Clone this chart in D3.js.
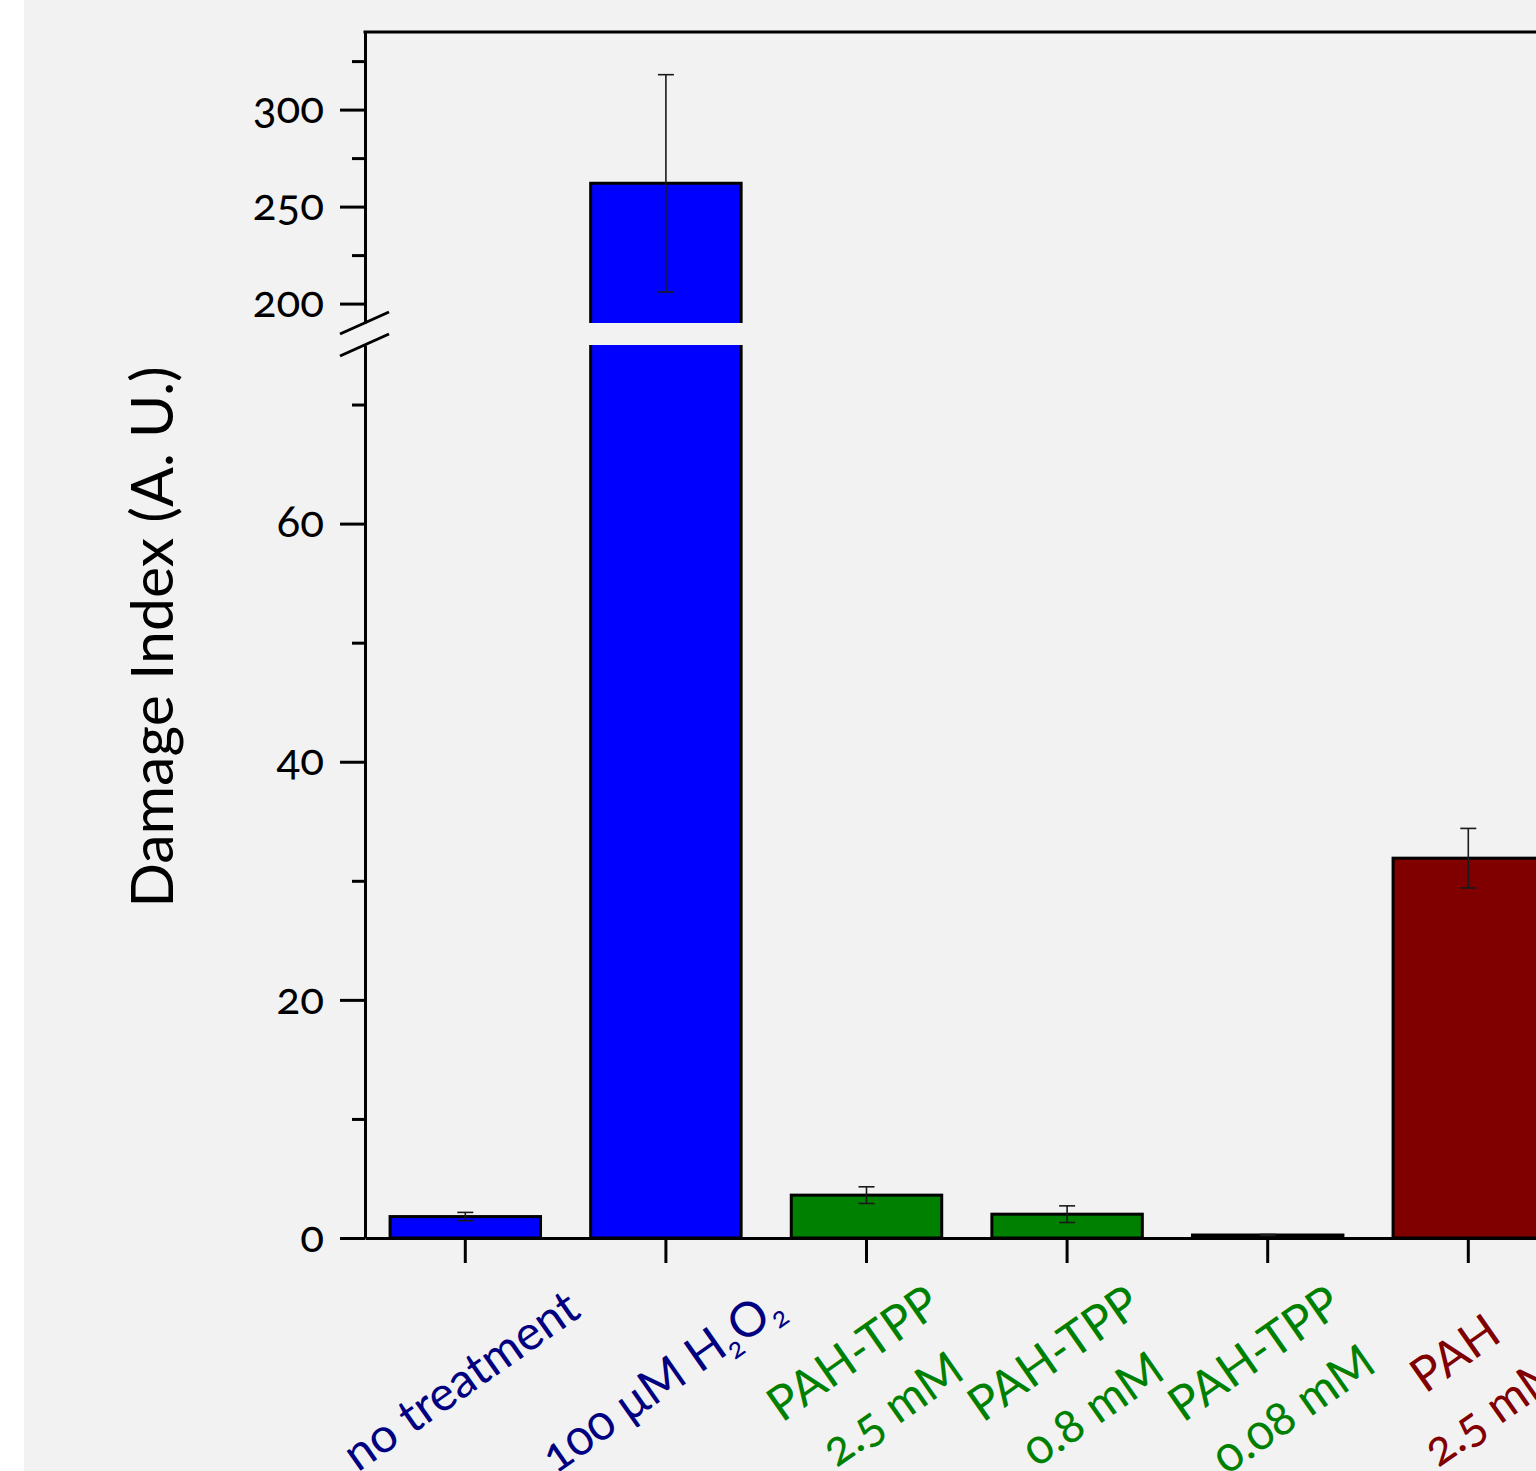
<!DOCTYPE html>
<html>

<head>
    <script src="https://d3js.org/d3.v7.min.js"></script>
    <style>
        body {
            margin: 0;
            background-color: #ffffff;
        }

        text {
            font-family: 'Lato', sans-serif;
            font-variant-numeric: oldstyle-nums;
        }
    </style>
    <title>Damage Index</title>
</head>

<body>
    <svg id="chart" width="1536" height="1471"></svg>

    <script>
        // data
        var categories = ["no treatment", "100 uM H2O2", "PAH-TPP 2.5 mM", "PAH-TPP 0.8 mM", "PAH-TPP 0.08 mM", "PAH 2.5 mM"];
        var labelLines = [["no treatment"], ["100 μM H_2O_2"], ["PAH-TPP", "2.5 mM"], ["PAH-TPP", "0.8 mM"], ["PAH-TPP", "0.08 mM"], ["PAH", "2.5 mM"]];
        var values = [1.8, 262, 3.6, 2.0, 0.25, 31.9];
        var errors = [0.35, 56, 0.7, 0.7, 0.05, 2.5];
        var barColors = ["#0000ff", "#0000ff", "#008000", "#008000", "#008000", "#800000"];
        var labelColors = ["#000080", "#000080", "#008000", "#008000", "#008000", "#800000"];

        var lowDomain = [0, 75];
        var highDomain = [190, 340];
        var lowTicks = [0, 20, 40, 60];
        var lowMinor = [10, 30, 50, 70];
        var highTicks = [200, 250, 300];
        var highMinor = [225, 275, 325];

        var svg = d3.select("#chart");

        var axisX = 365;
        var baseY = 1238;

        svg.append("rect")
            .attr("x", 24)
            .attr("y", 0)
            .attr("width", 1512)
            .attr("height", 1471)
            .attr("fill", "#f2f2f2");

        var x = d3.scaleBand()
            .domain(categories)
            .range([axisX, axisX + 200.6 * categories.length])
            .paddingInner(0.25)
            .paddingOuter(0.125);

        var yLow = d3.scaleLinear().domain(lowDomain).range([baseY, 345]);
        var yHigh = d3.scaleLinear().domain(highDomain).range([323, 32]);

        function yOf(v) {
            return v >= highDomain[0] ? yHigh(v) : yLow(v);
        }

        // bars
        var bars = svg.append("g");
        categories.forEach(function (c, i) {
            var x0 = x(c), x1 = x(c) + x.bandwidth();
            var v = values[i];
            if (v > lowDomain[1]) {
                // broken bar: two pieces, no edge at the break
                var segs = [
                    { top: yHigh(v), bottom: yHigh(highDomain[0]), path: "M" + x0 + "," + yHigh(highDomain[0]) + "V" + yHigh(v) + "H" + x1 + "V" + yHigh(highDomain[0]) },
                    { top: yLow(lowDomain[1]), bottom: yLow(0), path: "M" + x0 + "," + yLow(lowDomain[1]) + "V" + yLow(0) + "H" + x1 + "V" + yLow(lowDomain[1]) }
                ];
                segs.forEach(function (s) {
                    bars.append("rect")
                        .attr("x", x0)
                        .attr("y", s.top)
                        .attr("width", x.bandwidth())
                        .attr("height", s.bottom - s.top)
                        .attr("fill", barColors[i]);
                    bars.append("path")
                        .attr("d", s.path)
                        .attr("fill", "none")
                        .attr("stroke", "#000")
                        .attr("stroke-width", 3);
                });
            } else {
                bars.append("rect")
                    .attr("x", x0)
                    .attr("y", yLow(v))
                    .attr("width", x.bandwidth())
                    .attr("height", yLow(0) - yLow(v))
                    .attr("fill", barColors[i])
                    .attr("stroke", "#000")
                    .attr("stroke-width", 3);
            }
        });

        // error bars
        var err = svg.append("g")
            .attr("stroke", "#1a1a1a")
            .attr("stroke-width", 1.6);
        categories.forEach(function (c, i) {
            var cx = x(c) + x.bandwidth() / 2;
            var lo = yOf(values[i] - errors[i]);
            var hi = yOf(values[i] + errors[i]);
            err.append("line").attr("x1", cx).attr("x2", cx).attr("y1", lo).attr("y2", hi);
            err.append("line").attr("x1", cx - 8).attr("x2", cx + 8).attr("y1", lo).attr("y2", lo);
            err.append("line").attr("x1", cx - 8).attr("x2", cx + 8).attr("y1", hi).attr("y2", hi);
        });

        // y axes, two pieces
        function styleAxis(g) {
            g.selectAll("path, line")
                .attr("stroke", "#000")
                .attr("stroke-width", 3);
            g.selectAll("text")
                .attr("fill", "#000")
                .style("font-size", "44px")
                .attr("dy", "0.3em");
        }

        svg.append("g")
            .attr("transform", "translate(" + axisX + ",0)")
            .call(d3.axisLeft(yLow).tickValues(lowTicks).tickSize(25).tickSizeOuter(0).tickPadding(16))
            .call(styleAxis);
        svg.append("g")
            .attr("transform", "translate(" + axisX + ",0)")
            .call(d3.axisLeft(yLow).tickValues(lowMinor).tickSize(13).tickFormat(""))
            .call(styleAxis)
            .select(".domain").remove();

        svg.append("g")
            .attr("transform", "translate(" + axisX + ",0)")
            .call(d3.axisLeft(yHigh).tickValues(highTicks).tickSize(25).tickSizeOuter(0).tickPadding(16))
            .call(styleAxis);
        svg.append("g")
            .attr("transform", "translate(" + axisX + ",0)")
            .call(d3.axisLeft(yHigh).tickValues(highMinor).tickSize(13).tickFormat(""))
            .call(styleAxis)
            .select(".domain").remove();

        // break marks
        [yHigh(highDomain[0]), yLow(lowDomain[1])].forEach(function (yy) {
            svg.append("line")
                .attr("x1", axisX - 25).attr("y1", yy + 11)
                .attr("x2", axisX + 24).attr("y2", yy - 11)
                .attr("stroke", "#000")
                .attr("stroke-width", 3);
        });

        // top frame
        svg.append("line")
            .attr("x1", axisX - 1.5).attr("x2", 1536)
            .attr("y1", yHigh(highDomain[1])).attr("y2", yHigh(highDomain[1]))
            .attr("stroke", "#000")
            .attr("stroke-width", 3);

        // x axis
        var xAxisG = svg.append("g")
            .attr("transform", "translate(0," + baseY + ")")
            .call(d3.axisBottom(x).tickSize(25).tickSizeOuter(0).tickFormat(""));
        xAxisG.selectAll("path, line")
            .attr("stroke", "#000")
            .attr("stroke-width", 3);

        // category labels
        categories.forEach(function (c, i) {
            var lines = labelLines[i];
            var shift = lines.length === 1 ? 5 : 15;
            var g = svg.append("g")
                .attr("transform", "translate(" + (x(c) + x.bandwidth() / 2 + shift) + ",1394) rotate(-35)");
            var t = g.append("text")
                .attr("text-anchor", "middle")
                .attr("fill", labelColors[i])
                .style("font-size", "48px");
            lines.forEach(function (line, j) {
                var parts = line.split("_");
                parts.forEach(function (p, k) {
                    var ts = t.append("tspan");
                    if (k === 0) {
                        ts.attr("x", 0)
                            .attr("dy", lines.length === 1 ? 0 : (j === 0 ? -33 : 68));
                        ts.text(p);
                    } else {
                        // first char is a subscript
                        ts.text(p.charAt(0))
                            .attr("dy", 9)
                            .style("font-size", "28px");
                        t.append("tspan")
                            .attr("dy", -9)
                            .text(p.slice(1));
                    }
                });
            });
        });

        // y title
        svg.append("text")
            .attr("transform", "translate(173,637) rotate(-90)")
            .attr("text-anchor", "middle")
            .attr("fill", "#000")
            .style("font-size", "59px")
            .text("Damage Index (A. U.)");
    </script>
</body>

</html>
